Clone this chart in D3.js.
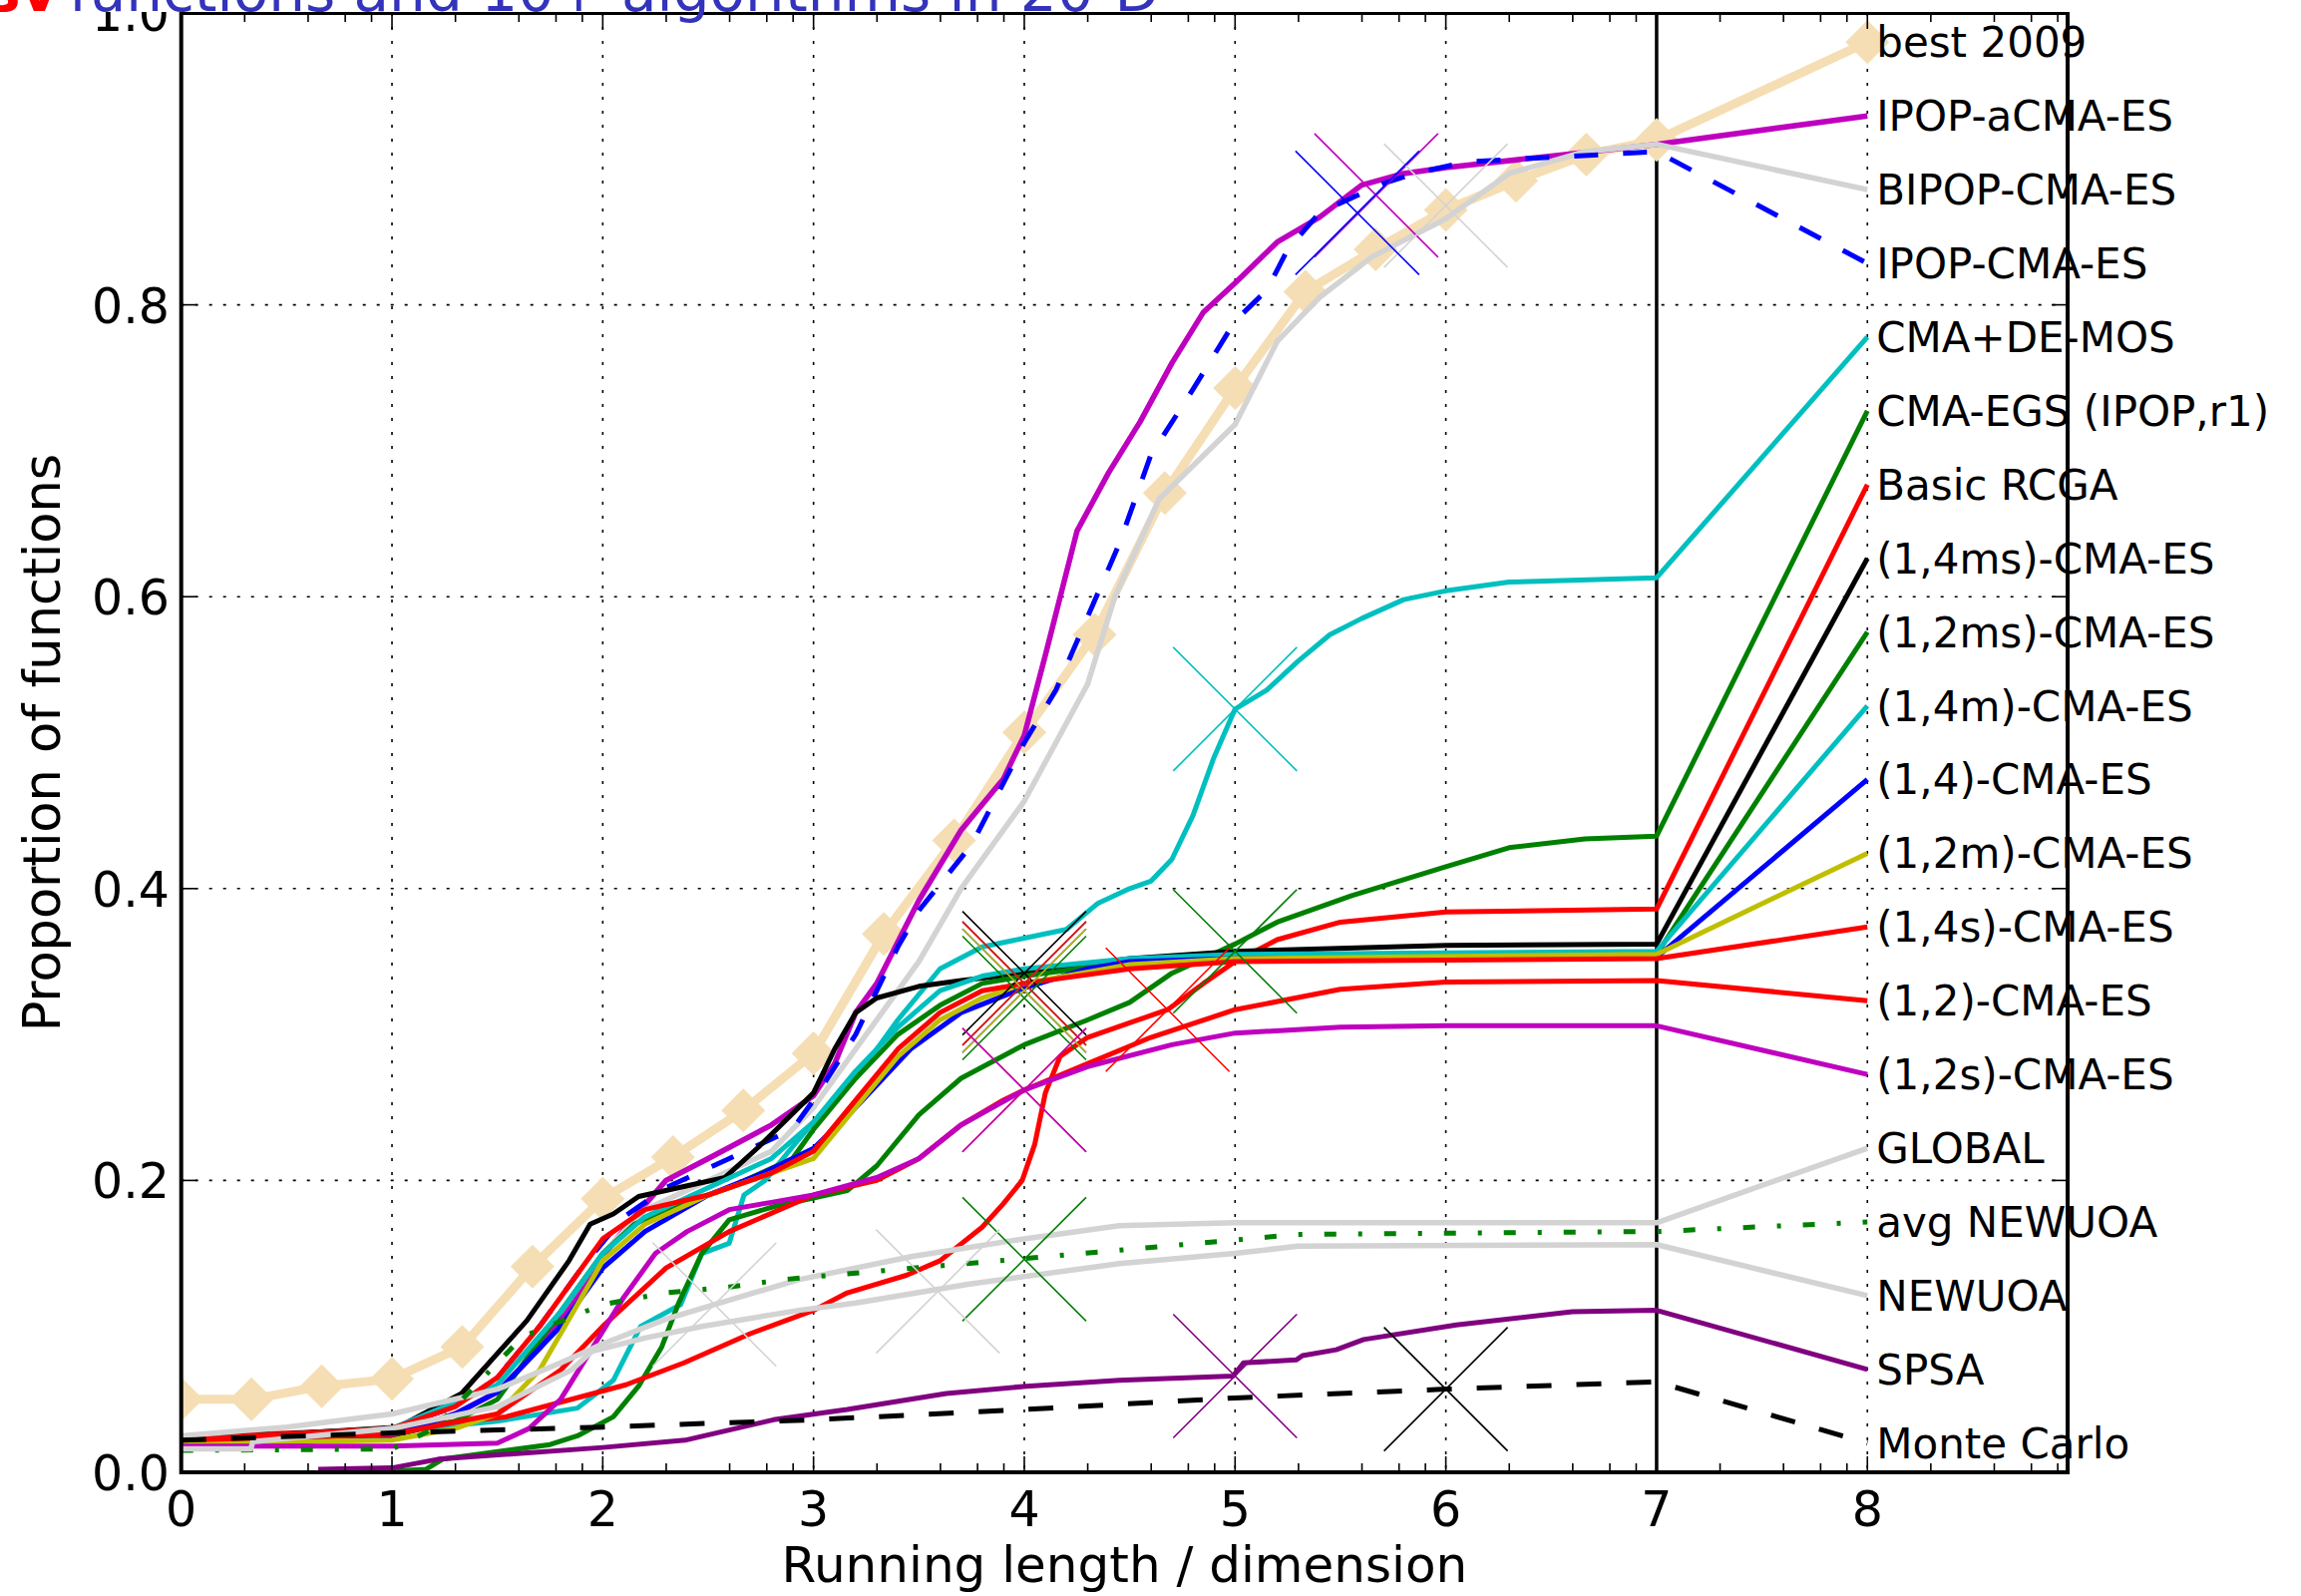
<!DOCTYPE html>
<html><head><meta charset="utf-8">
<script src="https://cdn.jsdelivr.net/npm/d3@7"></script>
<style>body{margin:0;background:#fff}svg{display:block}</style>
</head><body>
<svg id="c" width="2307" height="1600"></svg>
<script>
// ---------------- data ----------------
const algorithms = ["best 2009","IPOP-aCMA-ES","BIPOP-CMA-ES","IPOP-CMA-ES","CMA+DE-MOS",
  "CMA-EGS (IPOP,r1)","Basic RCGA","(1,4ms)-CMA-ES","(1,2ms)-CMA-ES","(1,4m)-CMA-ES",
  "(1,4)-CMA-ES","(1,2m)-CMA-ES","(1,4s)-CMA-ES","(1,2)-CMA-ES","(1,2s)-CMA-ES",
  "GLOBAL","avg NEWUOA","NEWUOA","SPSA","Monte Carlo"];

const best2009X = [0,1/3,2/3,1,4/3,5/3,2,7/3,8/3,3,10/3,11/3,4,13/3,14/3,5,16/3,17/3,6,19/3,20/3,7];
const best2009Y = [0.05,0.05,0.059,0.064,0.086,0.141,0.1875,0.216,0.248,0.287,0.369,0.433,0.507,0.574,0.671,0.743,0.809,0.838,0.865,0.885,0.903,0.913];

const ipopACMA = [[0,0.018],[0.5,0.02],[1,0.026],[1.3,0.04],[1.5,0.055],[1.7,0.085],[1.9,0.125],[2.0,0.148],[2.15,0.175],[2.3,0.2],[2.5,0.215],[2.8,0.238],[3.0,0.258],[3.1,0.28],[3.2,0.315],[3.3,0.335],[3.5,0.392],[3.7,0.44],[3.9,0.475],[4.0,0.505],[4.1,0.56],[4.25,0.645],[4.4,0.685],[4.55,0.72],[4.7,0.76],[4.85,0.795],[5.0,0.815],[5.2,0.843],[5.4,0.86],[5.6,0.882],[5.8,0.89],[6.0,0.894],[6.5,0.902],[7,0.91]];
const bipop = [[0,0.02],[1,0.028],[1.5,0.06],[1.8,0.11],[2.0,0.15],[2.2,0.18],[2.5,0.2],[2.8,0.22],[3.0,0.25],[3.2,0.29],[3.5,0.35],[3.7,0.4],[4.0,0.46],[4.3,0.54],[4.43,0.6],[4.64,0.667],[5.0,0.718],[5.2,0.775],[5.4,0.805],[5.65,0.833],[6.0,0.859],[6.3,0.89],[6.66,0.905],[7,0.91]];
const ipop = [[0,0.022],[1,0.03],[1.3,0.045],[1.5,0.065],[1.7,0.1],[1.9,0.14],[2.1,0.175],[2.3,0.195],[2.6,0.215],[2.9,0.235],[3.0,0.255],[3.2,0.3],[3.4,0.36],[3.5,0.385],[3.75,0.43],[4.0,0.5],[4.15,0.536],[4.3,0.586],[4.45,0.636],[4.6,0.697],[4.8,0.742],[5.0,0.789],[5.15,0.81],[5.25,0.838],[5.4,0.863],[5.7,0.883],[5.85,0.89],[6.1,0.898],[7,0.905]];
const cmaDeMos = [[0,0.022],[1,0.028],[1.5,0.035],[1.88,0.044],[1.96,0.053],[2.05,0.063],[2.18,0.1],[2.37,0.115],[2.47,0.15],[2.6,0.157],[2.67,0.19],[2.77,0.2],[2.9,0.223],[3.0,0.24],[3.2,0.27],[3.4,0.31],[3.6,0.345],[3.8,0.36],[4.0,0.366],[4.2,0.372],[4.35,0.39],[4.5,0.4],[4.6,0.405],[4.7,0.42],[4.8,0.45],[4.9,0.49],[5.0,0.523],[5.15,0.536],[5.3,0.556],[5.45,0.574],[5.6,0.585],[5.8,0.598],[6.0,0.604],[6.3,0.61],[7,0.613]];
const cmaEgs = [[0.9,0],[1.16,0.002],[1.24,0.009],[1.75,0.019],[1.88,0.025],[2.05,0.038],[2.17,0.059],[2.28,0.086],[2.36,0.116],[2.47,0.15],[2.6,0.173],[2.81,0.182],[3.16,0.193],[3.3,0.21],[3.5,0.245],[3.7,0.27],[4.0,0.293],[4.3,0.31],[4.5,0.322],[4.7,0.342],[5.0,0.362],[5.2,0.377],[5.55,0.395],[6.0,0.415],[6.3,0.428],[6.66,0.434],[7,0.436]];
const basicRcga = [[0,0.024],[0.9,0.029],[1.54,0.038],[2.11,0.06],[2.385,0.075],[2.7,0.095],[3.0,0.111],[3.16,0.123],[3.44,0.135],[3.6,0.145],[3.8,0.168],[3.9,0.184],[3.99,0.2],[4.05,0.225],[4.1,0.26],[4.17,0.285],[4.3,0.298],[4.5,0.308],[4.68,0.317],[4.85,0.335],[5.0,0.35],[5.2,0.365],[5.5,0.377],[6.0,0.384],[7,0.386]];
const es14ms = [[0,0.022],[1.03,0.031],[1.33,0.054],[1.64,0.104],[1.84,0.145],[1.94,0.17],[2.05,0.177],[2.17,0.189],[2.39,0.196],[2.58,0.202],[2.74,0.223],[3.0,0.26],[3.1,0.29],[3.2,0.315],[3.3,0.325],[3.5,0.333],[3.7,0.337],[4.0,0.342],[4.5,0.352],[5,0.357],[6,0.361],[7,0.362]];
const es12ms = [[0,0.02],[1,0.025],[1.3,0.035],[1.5,0.05],[1.7,0.09],[1.9,0.13],[2.0,0.15],[2.15,0.17],[2.3,0.18],[2.6,0.195],[2.9,0.215],[3.0,0.235],[3.2,0.27],[3.4,0.3],[3.6,0.32],[3.8,0.335],[4.0,0.34],[4.5,0.35],[5,0.353],[7,0.355]];
const es14m = [[0,0.022],[1,0.03],[1.5,0.06],[1.8,0.11],[2.0,0.15],[2.2,0.175],[2.5,0.195],[2.8,0.215],[3.0,0.24],[3.2,0.275],[3.4,0.305],[3.6,0.33],[3.8,0.34],[4.0,0.345],[4.5,0.352],[5,0.355],[7,0.357]];
const es14 = [[0,0.02],[1,0.025],[1.3,0.04],[1.5,0.055],[1.8,0.1],[2.0,0.14],[2.2,0.165],[2.5,0.19],[2.76,0.205],[3.0,0.222],[3.2,0.25],[3.46,0.29],[3.7,0.315],[4.0,0.332],[4.3,0.345],[4.5,0.35],[5,0.352],[7,0.353]];
const es12m = [[0,0.02],[1,0.022],[1.3,0.03],[1.5,0.04],[1.7,0.07],[1.9,0.12],[2.0,0.145],[2.2,0.17],[2.5,0.19],[2.8,0.205],[3.0,0.215],[3.2,0.25],[3.4,0.285],[3.6,0.31],[3.8,0.325],[4.0,0.335],[4.5,0.348],[5,0.352],[7,0.355]];
const es14s = [[0,0.022],[1,0.03],[1.3,0.045],[1.5,0.065],[1.7,0.1],[1.9,0.14],[2.0,0.16],[2.2,0.18],[2.5,0.19],[2.8,0.205],[3.0,0.22],[3.2,0.255],[3.4,0.29],[3.6,0.315],[3.8,0.33],[4.0,0.335],[4.5,0.345],[5,0.35],[7,0.352]];
const es12 = [[0,0.022],[1,0.026],[1.5,0.04],[1.8,0.07],[2.0,0.1],[2.3,0.14],[2.6,0.165],[3.0,0.19],[3.3,0.2],[3.5,0.215],[3.7,0.238],[3.9,0.255],[4.0,0.262],[4.3,0.28],[4.6,0.298],[5.0,0.317],[5.5,0.331],[6,0.336],[7,0.337]];
const es12s = [[0,0.018],[1,0.018],[1.5,0.02],[1.65,0.03],[1.8,0.05],[1.95,0.085],[2.1,0.12],[2.25,0.15],[2.4,0.165],[2.6,0.18],[2.8,0.185],[3.0,0.19],[3.3,0.202],[3.5,0.215],[3.7,0.238],[4.0,0.262],[4.3,0.278],[4.7,0.293],[5,0.301],[5.5,0.305],[6,0.306],[7,0.306]];
const global = [[0,0.025],[0.5,0.031],[1,0.04],[1.5,0.057],[1.8,0.075],[2,0.088],[2.3,0.105],[2.6,0.118],[2.93,0.132],[3.47,0.148],[4,0.16],[4.45,0.169],[5,0.171],[7,0.171]];
const avgNewuoa = [[0,0.015],[1,0.016],[1.2,0.03],[1.4,0.06],[1.62,0.093],[2.0,0.115],[2.3,0.123],[2.6,0.127],[2.85,0.132],[3.16,0.136],[3.96,0.146],[4.99,0.159],[5.29,0.163],[7,0.165]];
const newuoa = [[0,0.016],[0.33,0.016],[0.34,0.021],[1,0.03],[1.5,0.045],[1.85,0.07],[1.95,0.083],[2.2,0.092],[2.47,0.1],[2.93,0.111],[3.2,0.116],[3.74,0.129],[4.45,0.143],[5,0.15],[5.3,0.155],[7,0.156]];
const spsa = [[0.65,0.002],[1.0,0.003],[1.22,0.009],[2.0,0.017],[2.39,0.022],[2.81,0.036],[3.16,0.043],[3.63,0.054],[4.01,0.059],[4.45,0.063],[4.99,0.066],[5.04,0.075],[5.29,0.077],[5.32,0.08],[5.48,0.084],[5.61,0.091],[6.05,0.101],[6.6,0.11],[7,0.111]];
const monteCarlo = [[0,0.022],[1,0.027],[2,0.031],[3,0.036],[4,0.043],[5,0.051],[6,0.057],[7,0.062]];

// budget crosses [x, y] per algorithm (null = none)
const crosses = [null,[5.67,0.875],[6.0,0.868],[5.58,0.863],[5.0,0.523],[5.0,0.357],[4.68,0.317],[4.0,0.342],[4.0,0.325],[4.0,0.335],[4.0,0.33],[4.0,0.33],[4.0,0.335],[4.0,0.262],[4.0,0.262],[2.53,0.115],[4.0,0.146],[3.59,0.124],[5.0,0.066],[6.0,0.057]];

const xTicks = [0,1,2,3,4,5,6,7,8];
const xMinorFactors = [2,4,6,8];
const yTicks = [0,0.2,0.4,0.6,0.8,1.0];
const yTickLabels = ["0.0","0.2","0.4","0.6","0.8","1.0"];
const xTitle = "Running length / dimension";
const yTitle = "Proportion of functions";
const titleRed = "sv";
const titleBlue = "functions and 10+ algorithms in 20-D";

// ---------------- styles ----------------
const C = {b:"#0000ff",g:"#008000",r:"#ff0000",c:"#00bfbf",m:"#bf00bf",y:"#bfbf00",k:"#000000",w:"#f5deb3",gr:"#d3d3d3",p:"#800080"};
const styles = {
 "best 2009":{c:C.w,w:9},
 "IPOP-aCMA-ES":{c:C.m,w:5.5},
 "BIPOP-CMA-ES":{c:C.gr,w:5.5},
 "IPOP-CMA-ES":{c:C.b,w:5,d:"24,25"},
 "CMA+DE-MOS":{c:C.c,w:5},
 "CMA-EGS (IPOP,r1)":{c:C.g,w:5},
 "Basic RCGA":{c:C.r,w:5},
 "(1,4ms)-CMA-ES":{c:C.k,w:5},
 "(1,2ms)-CMA-ES":{c:C.g,w:5},
 "(1,4m)-CMA-ES":{c:C.c,w:5},
 "(1,4)-CMA-ES":{c:C.b,w:5},
 "(1,2m)-CMA-ES":{c:C.y,w:5},
 "(1,4s)-CMA-ES":{c:C.r,w:5},
 "(1,2)-CMA-ES":{c:C.r,w:5},
 "(1,2s)-CMA-ES":{c:C.m,w:5},
 "GLOBAL":{c:C.gr,w:5.5},
 "avg NEWUOA":{c:C.g,w:5,d:"12,22,4,22"},
 "NEWUOA":{c:C.gr,w:5.5},
 "SPSA":{c:C.p,w:5},
 "Monte Carlo":{c:C.k,w:5,d:"25,25"}
};

const seriesData = [best2009X.map((x,i)=>[x,best2009Y[i]]), ipopACMA, bipop, ipop, cmaDeMos, cmaEgs, basicRcga,
  es14ms, es12ms, es14m, es14, es12m, es14s, es12, es12s, global, avgNewuoa, newuoa, spsa, monteCarlo];

// ---------------- layout ----------------
const W=2307,H=1600;
const L=181.7,R=2073,T=13,B=1476;
const x = d3.scaleLinear().domain([0,8.95]).range([L,R]);
const y = d3.scaleLinear().domain([0,1]).range([B,T]);
const svg = d3.select("#c");
const FONT = "DejaVu Sans, Liberation Sans, sans-serif";

svg.append("rect").attr("width",W).attr("height",H).attr("fill","#fff");

svg.append("defs").append("clipPath").attr("id","pc").append("rect")
  .attr("x",L).attr("y",T).attr("width",R-L).attr("height",B-T);

// grid
const grid = svg.append("g");
grid.selectAll(".gx").data(xTicks.filter(t=>t>0)).enter().append("line")
  .attr("x1",d=>x(d)).attr("x2",d=>x(d)).attr("y1",T).attr("y2",B)
  .attr("stroke","#000").attr("stroke-width",1.6).attr("stroke-dasharray","3,11");
grid.selectAll(".gy").data(yTicks.filter(t=>t>0&&t<1)).enter().append("line")
  .attr("x1",L).attr("x2",R).attr("y1",d=>y(d)).attr("y2",d=>y(d))
  .attr("stroke","#000").attr("stroke-width",1.6).attr("stroke-dasharray","3,11");

// vertical line at x=7
svg.append("line").attr("x1",x(7)).attr("x2",x(7)).attr("y1",T).attr("y2",B)
  .attr("stroke","#000").attr("stroke-width",3.5);

// label positions
const n = algorithms.length;
const labelY = algorithms.map((a,i)=>0.98 - i*0.96/(n-1));

const line = d3.line().x(d=>x(d[0])).y(d=>y(d[1]));
const plot = svg.append("g").attr("clip-path","url(#pc)");

algorithms.forEach((name,i)=>{
  const st = styles[name];
  const pts = seriesData[i].concat([[8,labelY[i]]]);
  plot.append("path").attr("d",line(pts)).attr("fill","none")
    .attr("stroke",st.c).attr("stroke-width",st.w)
    .attr("stroke-linejoin","round")
    .attr("stroke-dasharray",st.d||null);
  if(i===0){
    const mk = seriesData[0].concat([[8,labelY[0]]]);
    plot.selectAll(".dm").data(mk).enter().append("path")
      .attr("transform",d=>`translate(${x(d[0])},${y(d[1])})`)
      .attr("d","M0,-22L22,0L0,22L-22,0Z").attr("fill",st.c);
  }
});
// crosses
algorithms.forEach((name,i)=>{
  const cr = crosses[i]; if(!cr) return;
  const st = styles[name];
  const cx=x(cr[0]), cy=y(cr[1]), s=62;
  plot.append("path").attr("d",`M${cx-s},${cy-s}L${cx+s},${cy+s}M${cx+s},${cy-s}L${cx-s},${cy+s}`)
    .attr("stroke",st.c).attr("stroke-width",1.6).attr("fill","none");
});

// labels
svg.selectAll(".lbl").data(algorithms).enter().append("text")
  .attr("x",x(8)+9).attr("y",(d,i)=>y(labelY[i])+15)
  .attr("font-family",FONT).attr("font-size",42).attr("fill","#000").text(d=>d);

// frame
svg.append("rect").attr("x",L).attr("y",T).attr("width",R-L).attr("height",B-T)
  .attr("fill","none").attr("stroke","#000").attr("stroke-width",4);

// ticks
const tk = svg.append("g").attr("stroke","#000").attr("stroke-width",1.6);
xTicks.forEach(t=>{
  tk.append("line").attr("x1",x(t)).attr("x2",x(t)).attr("y1",B).attr("y2",B-16);
  tk.append("line").attr("x1",x(t)).attr("x2",x(t)).attr("y1",T).attr("y2",T+16);
  xMinorFactors.forEach(f=>{
    const v=t+Math.log10(f);
    if(v<8.95){
      tk.append("line").attr("x1",x(v)).attr("x2",x(v)).attr("y1",B).attr("y2",B-9);
      tk.append("line").attr("x1",x(v)).attr("x2",x(v)).attr("y1",T).attr("y2",T+9);
    }
  });
});
yTicks.forEach(t=>{
  tk.append("line").attr("x1",L).attr("x2",L+16).attr("y1",y(t)).attr("y2",y(t));
  tk.append("line").attr("x1",R).attr("x2",R-16).attr("y1",y(t)).attr("y2",y(t));
});

// tick labels
svg.selectAll(".xt").data(xTicks).enter().append("text")
  .attr("x",d=>x(d)).attr("y",1530).attr("text-anchor","middle")
  .attr("font-family",FONT).attr("font-size",49).text(d=>d);
svg.selectAll(".yt").data(yTicks).enter().append("text")
  .attr("x",170).attr("y",d=>y(d)+18).attr("text-anchor","end")
  .attr("font-family",FONT).attr("font-size",49).text((d,i)=>yTickLabels[i]);

// axis titles
svg.append("text").attr("x",(L+R)/2).attr("y",1586).attr("text-anchor","middle")
  .attr("font-family",FONT).attr("font-size",50).text(xTitle);
svg.append("text").attr("transform",`translate(60,${(T+B)/2}) rotate(-90)`).attr("text-anchor","middle")
  .attr("font-family",FONT).attr("font-size",51).text(yTitle);

// title (cut off at top)
svg.append("rect").attr("x",0).attr("y",0).attr("width",W).attr("height",T-1).attr("fill","#fff");
const tt = svg.append("text").attr("y",11).attr("font-family",FONT).attr("font-size",58);
tt.append("tspan").attr("x",-14).attr("fill","#ff0000").attr("font-weight","bold").text(titleRed);
tt.append("tspan").attr("x",69).attr("fill","#3333bb").text(titleBlue);
</script>
</body></html>
